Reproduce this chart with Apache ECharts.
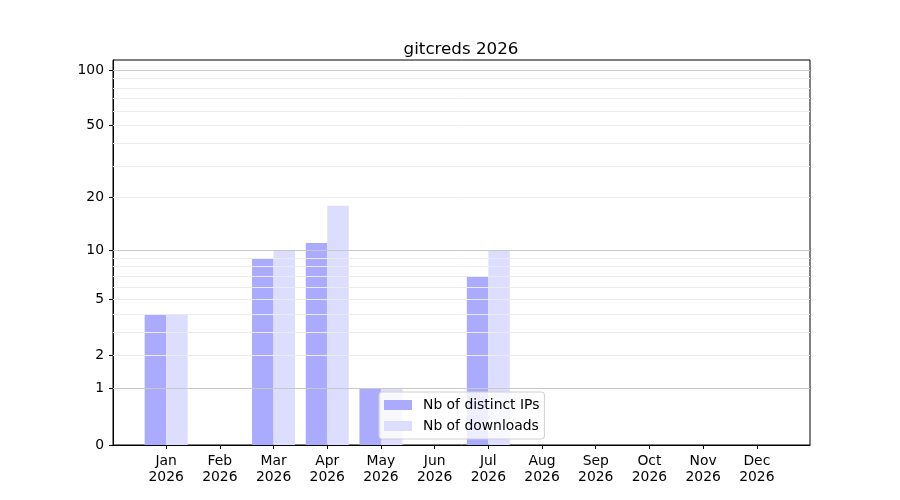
<!DOCTYPE html>
<html><head><meta charset="utf-8">
<script src="https://cdn.jsdelivr.net/npm/echarts@6/dist/echarts.min.js"></script>
<style>html,body{margin:0;padding:0;background:#fff}#c{width:900px;height:500px}</style>
</head><body><div id="c"></div>
<script>
const months = ['Jan','Feb','Mar','Apr','May','Jun','Jul','Aug','Sep','Oct','Nov','Dec'];
const year = '2026';
const distinctIPs = [4,0,9,11,1,0,7,0,0,0,0,0];
const downloads   = [4,0,10,18,1,0,10,0,0,0,0,0];
const yTickValues = [0,1,2,5,10,20,50,100];
const majorGrid = [1,10,100];
const minorGrid = [2,3,4,5,6,7,8,9,20,30,40,50,60,70,80,90];

// log(1+x) scale via the library's log axis on value+1
const OFF = 1;
const toAxis = v => v + OFF;
const xIdx = months.map((m,i)=>i);
const font = 'DejaVu Sans';

const chart = echarts.init(document.getElementById('c'), null, {renderer:'canvas'});
chart.setOption({
  animation:false,
  backgroundColor:'#fff',
  title:{text:'gitcreds '+year,left:456,top:36,textAlign:'center',
    textStyle:{fontFamily:font,fontSize:16.7,fontWeight:'normal',color:'#000'}},
  legend:{
    data:['Nb of distinct IPs','Nb of downloads'],
    orient:'vertical',left:379,top:392,
    itemWidth:28,itemHeight:10,itemGap:7,padding:[6,5,6,5],
    backgroundColor:'rgba(255,255,255,0.8)',borderColor:'#d0d0d0',borderWidth:1,borderRadius:3,
    icon:'rect',textStyle:{fontFamily:font,fontSize:13.9,color:'#000',padding:[0,0,0,6]}
  },
  grid:{left:113,right:90,top:60,bottom:55,show:true,borderColor:'#000',borderWidth:1,backgroundColor:'transparent'},
  xAxis:{
    type:'value',min:-0.99,max:11.99,
    axisLine:{show:true,onZero:false,lineStyle:{color:'#000',width:1}},
    splitLine:{show:false},
    axisTick:{show:true,customValues:xIdx,length:4,lineStyle:{color:'#000'}},
    axisLabel:{customValues:xIdx,margin:8,fontFamily:font,fontSize:13.9,color:'#000',lineHeight:16,
      formatter:v=>months[Math.round(v)]+'\n'+year}
  },
  yAxis:{
    type:'log',logBase:10,min:toAxis(0),max:114.2,
    axisLine:{show:true,onZero:false,lineStyle:{color:'#000',width:1}},
    splitLine:{show:false},minorSplitLine:{show:false},
    axisTick:{show:true,customValues:yTickValues.map(toAxis),length:4,lineStyle:{color:'#000'}},
    axisLabel:{customValues:yTickValues.map(toAxis),margin:9,fontFamily:font,fontSize:13.9,color:'#000',
      formatter:v=>String(Math.round(v-OFF))}
  },
  series:[
    {type:'line',name:'grid',data:[],z:1,silent:true,
      markLine:{silent:true,symbol:'none',label:{show:false},animation:false,
        data:[
          ...minorGrid.map(v=>({yAxis:toAxis(v),lineStyle:{color:'#ebebeb',width:1,type:'solid'}})),
          ...majorGrid.map(v=>({yAxis:toAxis(v),lineStyle:{color:'#c8c8c8',width:1,type:'solid'}}))
        ]}},
    {type:'bar',name:'Nb of distinct IPs',z:2,barWidth:21.5,barGap:'0%',
      itemStyle:{color:'#aaaaff'},
      data:distinctIPs.map((v,i)=>[i,toAxis(v)])},
    {type:'bar',name:'Nb of downloads',z:2,barWidth:21.5,barGap:'0%',
      itemStyle:{color:'#ddddff'},
      data:downloads.map((v,i)=>[i,toAxis(v)])}
  ]
});
</script></body></html>
